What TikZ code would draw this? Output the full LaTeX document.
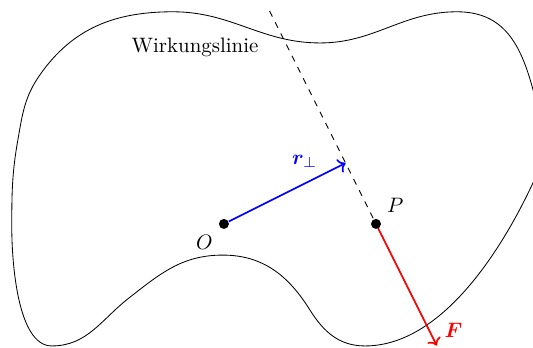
\documentclass[tikz,border=0pt]{standalone}
\usepackage{amsmath,amssymb,bm}
\usepackage{tikz}
\usetikzlibrary{arrows.meta,positioning,calc}

\begin{document}
\begin{tikzpicture}[scale=0.64, dot/.style={circle, fill=black, inner sep=0pt, minimum size=4.8pt}]
  \useasboundingbox (-5.89,-3.24) rectangle (8.13,5.89);
  % Body outline
  \draw (-5.58,-0.08) to[out=90, in=-100] (-5.42,2.21)
    to[out=80, in=-125] (-4.84,3.92) to[out=55, in=180] (-1.34,5.58)
    to[out=0, in=180] (2.53,4.76) to[out=0, in=180] (6.13,5.58)
    to[out=0, in=105, looseness=1.1] (8.13,3.53) to[out=-75, in=65] (8.13,1.08)
    to[out=245, in=0, looseness=0.83] (3.71,-3.21)
    to[out=180, in=-58] (2.26,-2.26) to[out=122, in=0] (-0.03,-0.82)
    to[out=180, in=38] (-2.5,-1.95) to[out=218, in=0] (-4.53,-3.21)
    to[out=180, in=-90, looseness=0.7] cycle;
  \node (wl) at (-0.76,4.63) {Wirkungslinie};
  % Points
  \node[dot, label={below left:$O$}] (O) at (0,0) {};
  \node[dot, label={above right:$P$}] (P) at (4,0) {};
  \coordinate (top) at (1.2,5.6);
  \coordinate (foot) at (3.2,1.6);
  \coordinate (tip) at (5.6,-3.2);
  % Line of action
  \draw[dashed] (top) -- (tip);
  % Vectors
  \draw[->, thick, blue] (O) -- (foot) node[pos=0.65, above=4pt] {$\boldsymbol{r}_\perp$};
  \draw[->, thick, red] (P) -- (tip) node[above right] {$\boldsymbol{F}$};
\end{tikzpicture}
\end{document}
